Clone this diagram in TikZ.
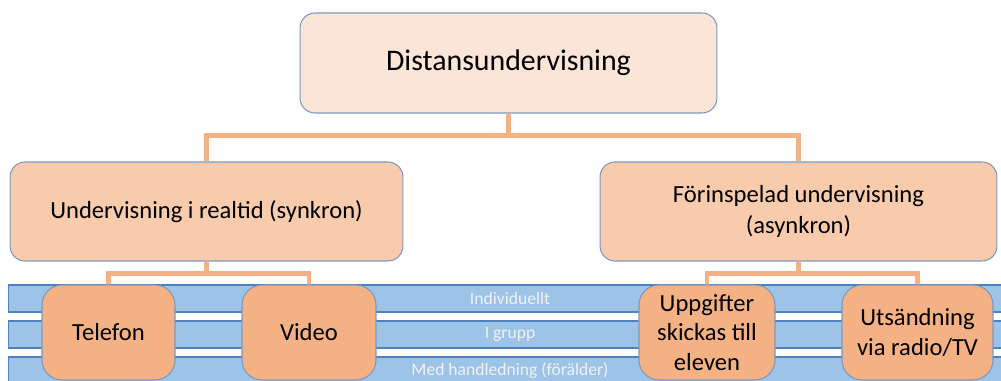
\documentclass[tikz,border=0pt]{standalone}
\usepackage{fontspec}
\setmainfont{Carlito}
\usepackage{tikz}
\usetikzlibrary{positioning}
\definecolor{topfill}{HTML}{FBE5D6}
\definecolor{midfill}{HTML}{F8CBAD}
\definecolor{leaffill}{HTML}{F4B183}
\definecolor{boxline}{HTML}{7F97BF}
\definecolor{bandfill}{HTML}{9DC3E6}
\definecolor{bandline}{HTML}{4F81BD}

\begin{document}
\begin{tikzpicture}[
  x=0.02cm, y=-0.02cm,
  box/.style={draw=boxline, line width=0.6pt, rounded corners=0.3cm, align=center,
    inner sep=0pt},
  topbox/.style={box, fill=topfill, font=\fontsize{17}{21}\selectfont,
    minimum width=8.34cm, minimum height=2cm},
  midbox/.style={box, fill=midfill, font=\fontsize{14}{18}\selectfont,
    minimum height=1.98cm},
  leaf/.style={box, fill=leaffill, rounded corners=0.4cm,
    font=\fontsize{14}{17}\selectfont, minimum height=1.9cm},
  band/.style={draw=bandline, line width=0.6pt, fill=bandfill, inner sep=0pt,
    minimum width=20.08cm, text=white!95!black, font=\fontsize{10}{12}\selectfont},
  link/.style={draw=leaffill, line width=2.8pt}
]
\clip (0,0) rectangle (1001,381);
\fill[white] (0,0) rectangle (1001,381);

% levels of guidance
\node[band, minimum height=0.54cm] (solo) at (510,298.5) {Individuellt};
\node[band, minimum height=0.54cm] (group) at (510,334.5) {I grupp};
\node[band, minimum height=0.56cm] (parent) at (510,371) {\raisebox{-0.6ex}{Med handledning (förälder)}};

\node[topbox] (dist) at (508.5,63) {Distansundervisning};
\node[midbox, minimum width=7.86cm] (sync) at (206.5,211.5) {Undervisning i realtid (synkron)};
\node[midbox, minimum width=7.94cm] (async) at (798.5,211.5) {Förinspelad undervisning\\(asynkron)};

\draw[link] (dist.south) -- ++(0,22) -| (sync.north);
\draw[link] (dist.south) -- ++(0,22) -| (async.north);
\draw[link] (sync.south) -- ++(0,12) -| (108.5,287);
\draw[link] (sync.south) -- ++(0,12) -| (309,287);
\draw[link] (async.south) -- ++(0,12) -| (707,287);
\draw[link] (async.south) -- ++(0,12) -| (917.5,287);

\node[leaf, minimum width=2.66cm] (phone) at (108.5,332.5) {Telefon};
\node[leaf, minimum width=2.68cm] (video) at (309,332.5) {Video};
\node[leaf, minimum width=2.72cm] (tasks) at (707,332.5) {Uppgifter\\skickas till\\eleven};
\node[leaf, minimum width=3.02cm] (radio) at (917.5,332.5) {Utsändning\\via radio/TV};
\end{tikzpicture}
\end{document}
